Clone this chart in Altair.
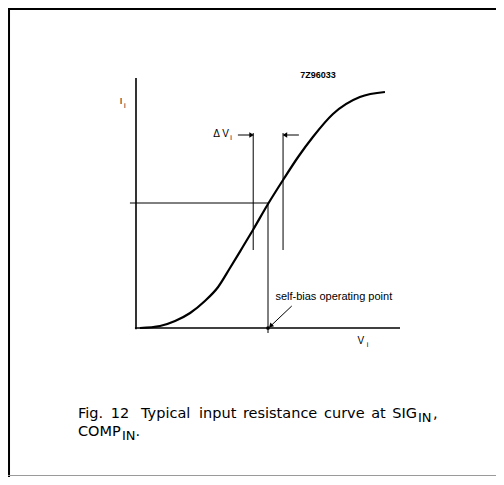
import altair as alt
import pandas as pd

# ---- data (V in arbitrary units along the x axis, I along the y axis) ----
curve_v = [0.15, 0.91, 1.48, 2.05, 2.61, 3.11, 3.56, 4.02, 4.43, 5.00, 5.57, 6.14, 6.70, 7.46, 8.48, 9.43]
curve_i = [0.00, 0.08, 0.28, 0.60, 1.08, 1.64, 2.40, 3.20, 3.92, 4.96, 5.92, 6.84, 7.64, 8.56, 9.24, 9.44]

# line segments: (v1, i1, v2, i2, width)
seg_v1 = [0.0, -0.04, -0.23, 5.00, 4.44, 5.57, 3.86, 6.17, 5.90]
seg_i1 = [10.0, 0.00, 5.00, 5.00, 7.80, 7.80, 7.72, 7.72, 0.88]
seg_v2 = [0.0, 10.0, 5.00, 5.00, 4.44, 5.57, 4.36, 5.66, 5.14]
seg_i2 = [-0.05, 0.00, 5.00, -0.20, 3.12, 3.12, 7.72, 7.72, 0.12]
seg_w = [1.6, 1.6, 1.0, 1.0, 1.0, 1.0, 1.0, 1.0, 1.0]

# page frame lines (top, left, faint bottom)
fr_v1 = [-4.85, -4.81, -4.85]
fr_i1 = [12.76, 12.80, -5.90]
fr_v2 = [13.64, -4.81, 13.64]
fr_i2 = [12.76, -5.96, -5.90]
fr_w = [2.0, 2.0, 1.2]
fr_c = ["black", "black", "#9a9a9a"]

# arrow heads
head_v = [4.38, 5.64, 5.10]
head_i = [7.72, 7.72, 0.08]
head_angle = [90, 270, 225]

# operating point
op_v = [5.0]
op_i = [0.0]

# diagram labels: label, v, i, size, align, weight
lab_text = ["7Z96033", "\u0394 V", "i", "I", "i", "V", "i", "self-bias operating point"]
lab_v = [6.89, 3.52, 3.57, -0.57, -0.45, 8.52, 8.74, 5.28]
lab_i = [10.02, 7.64, 7.52, 8.96, 8.82, -0.62, -0.76, 1.12]
lab_size = [9, 10, 7, 9, 7, 10, 7, 11]
lab_align = ["center", "right", "left", "center", "left", "center", "left", "left"]
lab_weight = ["bold"] + ["normal"] * 7

# caption words
cap_text = ["Fig.", "12", "Typical", "input", "resistance", "curve", "at", "SIG", "IN", ",",
            "COMP", "IN", "."]
cap_v = [-2.20, -0.96, 0.19, 2.39, 4.05, 7.12, 8.91, 9.71, 10.68, 11.25,
         -2.20, -0.53, -0.02]
cap_i = [-3.60, -3.60, -3.60, -3.60, -3.60, -3.60, -3.60, -3.60, -3.76, -3.60,
         -4.32, -4.48, -4.32]
cap_size = [14.5] * 8 + [13, 14.5, 14.5, 13, 14.5]

LFONT = "Liberation Sans"
CFONT = "DejaVu Sans"
W, H = 488, 469
xsc = alt.Scale(domain=[-128 / 26.4, (W - 128) / 26.4], range=[0, W], nice=False, zero=False)
ysc = alt.Scale(domain=[-149 / 25.0, 320 / 25.0], range=[H, 0], nice=False, zero=False)
X = lambda f: alt.X(f, type="quantitative", scale=xsc, axis=None)
Y = lambda f: alt.Y(f, type="quantitative", scale=ysc, axis=None)

curve_df = pd.DataFrame({"v": curve_v, "i": curve_i, "o": range(len(curve_v))})
seg_df = pd.DataFrame({"v1": seg_v1, "i1": seg_i1, "v2": seg_v2, "i2": seg_i2, "w": seg_w})
fr_df = pd.DataFrame({"v1": fr_v1, "i1": fr_i1, "v2": fr_v2, "i2": fr_i2, "w": fr_w, "c": fr_c})
head_df = pd.DataFrame({"v": head_v, "i": head_i, "a": head_angle})
op_df = pd.DataFrame({"v": op_v, "i": op_i})

frame = alt.Chart(fr_df).mark_rule().encode(
    x=X("v1"), y=Y("i1"), x2="v2", y2="i2",
    color=alt.Color("c:N", scale=None, legend=None),
    strokeWidth=alt.StrokeWidth("w:Q", scale=None, legend=None))

curve = alt.Chart(curve_df).mark_line(color="black", strokeWidth=2.2, interpolate="monotone").encode(
    x=X("v"), y=Y("i"), order="o:Q")

segs = alt.Chart(seg_df).mark_rule(color="black").encode(
    x=X("v1"), y=Y("i1"), x2="v2", y2="i2",
    strokeWidth=alt.StrokeWidth("w:Q", scale=None, legend=None))

heads = alt.Chart(head_df).mark_point(shape="triangle-up", filled=True, color="black", size=28, opacity=1).encode(
    x=X("v"), y=Y("i"), angle=alt.Angle("a:Q", scale=None))

op = alt.Chart(op_df).mark_point(shape="circle", filled=True, color="black", size=14, opacity=1).encode(
    x=X("v"), y=Y("i"))

texts = []
for lab, v, i, s, al, wt in zip(lab_text, lab_v, lab_i, lab_size, lab_align, lab_weight):
    d = pd.DataFrame({"v": [v], "i": [i], "t": [lab]})
    texts.append(alt.Chart(d).mark_text(font=LFONT, fontSize=s, align=al, baseline="alphabetic",
                                        fontWeight=wt, color="black").encode(
        x=X("v"), y=Y("i"), text="t:N"))
for lab, v, i, s in zip(cap_text, cap_v, cap_i, cap_size):
    d = pd.DataFrame({"v": [v], "i": [i], "t": [lab]})
    texts.append(alt.Chart(d).mark_text(font=CFONT, fontSize=s, align="left", baseline="alphabetic",
                                        color="black").encode(
        x=X("v"), y=Y("i"), text="t:N"))

chart = alt.layer(frame, segs, curve, heads, op, *texts).properties(
    width=W, height=H, padding=0, autosize=alt.AutoSizeParams(type="none"),
    background="white"
).configure_view(strokeWidth=0, stroke="transparent")

chart.save("out.html", embed_options={"renderer": "svg", "actions": False})
